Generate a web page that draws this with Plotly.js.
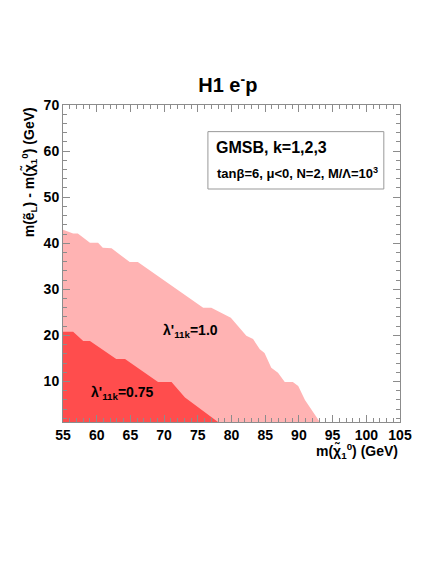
<!DOCTYPE html>
<html>
<head>
<meta charset="utf-8">
<script src="https://cdn.plot.ly/plotly-3.0.1.min.js"></script>
<style>html,body{margin:0;padding:0;background:#fff;}#chart{width:436px;height:564px;}</style>
</head>
<body>
<div id="chart"></div>
<script>
// Exclusion region boundaries (x = m(chi10) GeV, y = m(eL)-m(chi10) GeV)
const lightX = [55, 55, 56.5, 57.2, 59.0, 60.2, 60.9, 62.2, 64.9, 66.1, 75.8, 77.0, 79.9, 81.5, 82.2, 83.2, 84.2, 84.9, 85.9, 86.9, 87.9, 89.1, 89.9, 90.9, 92.8, 93.1, 93.1];
const lightY = [0, 42.9, 42.1, 42.1, 40.1, 40.1, 39.0, 38.9, 35.9, 35.9, 26.0, 26.0, 23.8, 21.2, 19.9, 19.2, 17.0, 16.2, 13.0, 11.9, 9.9, 9.9, 9.0, 6.0, 1.6, 1.2, 0];
const darkX = [55, 55, 56.5, 58.0, 59.0, 62.9, 64.2, 69.1, 71.1, 73.1, 78.0, 78.0];
const darkY = [0, 20.8, 20.8, 18.8, 18.8, 14.9, 14.9, 9.9, 9.9, 6.5, 1.2, 0];
const xRange = [55, 105];
const yRange = [1.2, 70];

const FONT = 'Liberation Sans, Arial, Helvetica, sans-serif';
const AX = '#8c8c8c';

const traces = [
  {x: lightX, y: lightY, type: 'scatter', mode: 'lines', fill: 'toself',
   fillcolor: '#ffb3b3', line: {width: 0, color: '#ffb3b3'}, hoverinfo: 'skip', showlegend: false},
  {x: darkX, y: darkY, type: 'scatter', mode: 'lines', fill: 'toself',
   fillcolor: '#ff4d4d', line: {width: 0, color: '#ff4d4d'}, hoverinfo: 'skip', showlegend: false}
];

const axisCommon = {
  ticks: 'inside', mirror: 'allticks', showline: true, linecolor: AX, linewidth: 1,
  tickcolor: AX, ticklen: 7, tickwidth: 1, showgrid: false, zeroline: false,
  tickfont: {family: FONT, size: 14, color: '#000', weight: 'bold'}
};

const layout = {
  width: 436, height: 564,
  margin: {l: 63, r: 36, t: 105, b: 142, pad: 0},
  paper_bgcolor: '#fff', plot_bgcolor: '#fff',
  font: {family: FONT, color: '#000'},
  title: {text: 'H1 e<sup>-</sup>p', font: {family: FONT, size: 20, weight: 'bold', color: '#000'},
          xref: 'paper', x: 0.489, xanchor: 'center', yref: 'container', y: 0.849, yanchor: 'middle'},
  xaxis: Object.assign({}, axisCommon, {range: xRange, tick0: 55, dtick: 5,
    minor: {ticks: 'inside', dtick: 1, ticklen: 4, tickcolor: AX, showgrid: false}}),
  yaxis: Object.assign({}, axisCommon, {range: yRange, tick0: 0, dtick: 10,
    minor: {ticks: 'inside', dtick: 2, ticklen: 4, tickcolor: AX, showgrid: false}}),
  shapes: [
    {type: 'rect', xref: 'paper', yref: 'paper', x0: 0.430, x1: 0.952, y0: 0.735, y1: 0.916,
     line: {color: '#999', width: 1}, fillcolor: 'rgba(0,0,0,0)'}
  ],
  annotations: [
    {text: 'GMSB, k=1,2,3', xref: 'paper', yref: 'paper', x: 0.618, y: 0.865, xanchor: 'center', yanchor: 'middle',
     showarrow: false, font: {family: FONT, size: 16, weight: 'bold', color: '#000'}},
    {text: 'tanβ=6, μ&lt;0, N=2, M/Λ=10<sup>3</sup>', xref: 'paper', yref: 'paper', x: 0.697, y: 0.785,
     xanchor: 'center', yanchor: 'middle', showarrow: false, font: {family: FONT, size: 13, weight: 'bold', color: '#000'}},
    {text: "λ'<sub>11k</sub>=1.0", xref: 'x', yref: 'y', x: 69.5, y: 21.0, xanchor: 'left', yanchor: 'middle',
     showarrow: false, font: {family: FONT, size: 14, weight: 'bold', color: '#000'}},
    {text: "λ'<sub>11k</sub>=0.75", xref: 'x', yref: 'y', x: 58.9, y: 7.4, xanchor: 'left', yanchor: 'middle',
     showarrow: false, font: {family: FONT, size: 14, weight: 'bold', color: '#000'}},
    {text: 'm(χ̃<sub>1</sub><sup>0</sup>) (GeV)', xref: 'paper', yref: 'paper', x: 1.0, y: -0.091, xanchor: 'right', yanchor: 'middle',
     showarrow: false, font: {family: FONT, size: 14, weight: 'bold', color: '#000'}},
    {text: 'm(ẽ<sub>L</sub>) - m(χ̃<sub>1</sub><sup>0</sup>) (GeV)', xref: 'paper', yref: 'paper', x: -0.1, y: 1.0,
     xanchor: 'center', yanchor: 'top', textangle: -90,
     showarrow: false, font: {family: FONT, size: 14, weight: 'bold', color: '#000'}}
  ]
};

Plotly.newPlot('chart', traces, layout, {staticPlot: true, displayModeBar: false});
</script>
</body>
</html>
